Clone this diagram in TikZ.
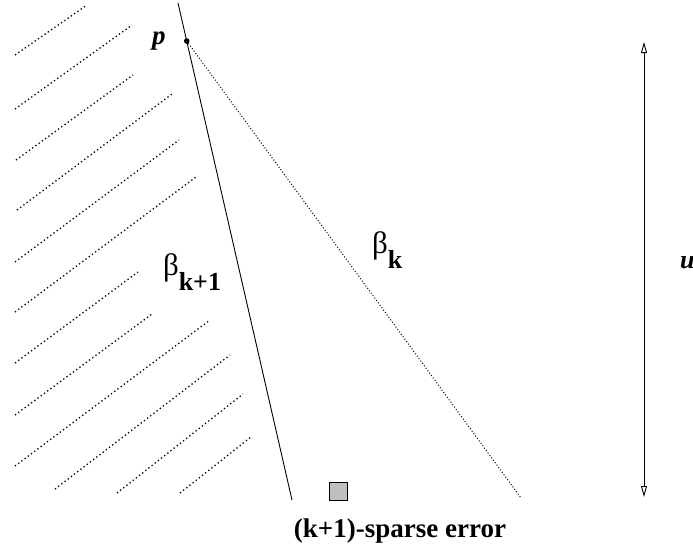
\documentclass[tikz,border=0pt]{standalone}
\usepackage{fontspec}
\setmainfont{Liberation Serif}
\usetikzlibrary{arrows.meta}
\begin{document}
\begin{tikzpicture}[x=1pt,y=-1pt,
  hatch/.style={line width=1.3pt,dash pattern=on 1.3pt off 2.7pt},
  fine/.style={line width=1pt,dash pattern=on 1pt off 2pt},
  solidline/.style={line width=0.9pt},
  lbl/.style={inner sep=0pt,outer sep=0pt},
  errbox/.style={draw=black,line width=0.8pt,fill=black!25}]
\useasboundingbox (0,0) rectangle (693,555);
% hatching
\foreach \xa/\ya/\xb/\yb in {15/55/87/5, 15/109/132/25, 16/160/133/75, 17/210/172/94,
  15/262/179/140, 15/312/196/177, 15/363/138/272, 15/415/152/314, 15/466/210/320,
  55/489/230/355, 117/493/243/394, 180/493/251/437}
  \draw[hatch] (\xa,\ya) -- (\xb,\yb);
% lines
\coordinate (top) at (178,3);
\coordinate (p) at (186.7,41);
\coordinate (solidend) at (292,500);
\coordinate (dotend) at (521,498);
\draw[solidline] (top) -- (solidend);
\draw[fine] (p) -- (dotend);
\fill (p) circle (2.8pt);
\node[lbl,anchor=base west] (plabel) at (152,44) {\fontsize{27}{27}\selectfont\bfseries\itshape p};
% beta labels
\node[lbl,anchor=base west] (bk1) at (163,275) {{\fontsize{31}{31}\selectfont β}\raisebox{-15pt}{\fontsize{26}{26}\selectfont\bfseries k+1}};
\node[lbl,anchor=base west] (bk) at (372,253) {{\fontsize{31}{31}\selectfont β}\raisebox{-15pt}{\fontsize{26}{26}\selectfont\bfseries k}};
% error square
\node[errbox,minimum size=18pt,inner sep=0pt] (sq) at (338,491) {};
\node[lbl,anchor=base] (err) at (400,537) {\fontsize{27}{27}\selectfont\bfseries (k+1)-sparse error};
% u arrow
\coordinate (ut) at (644,42);
\coordinate (ub) at (644,497);
\draw[line width=0.9pt,{Triangle[open,length=11pt,width=6pt]}-{Triangle[open,length=11pt,width=6pt]}] (ub) -- (ut);
\node[lbl,anchor=base west] (ulabel) at (680,268) {\fontsize{26}{26}\selectfont\bfseries\itshape u};
\end{tikzpicture}
\end{document}
